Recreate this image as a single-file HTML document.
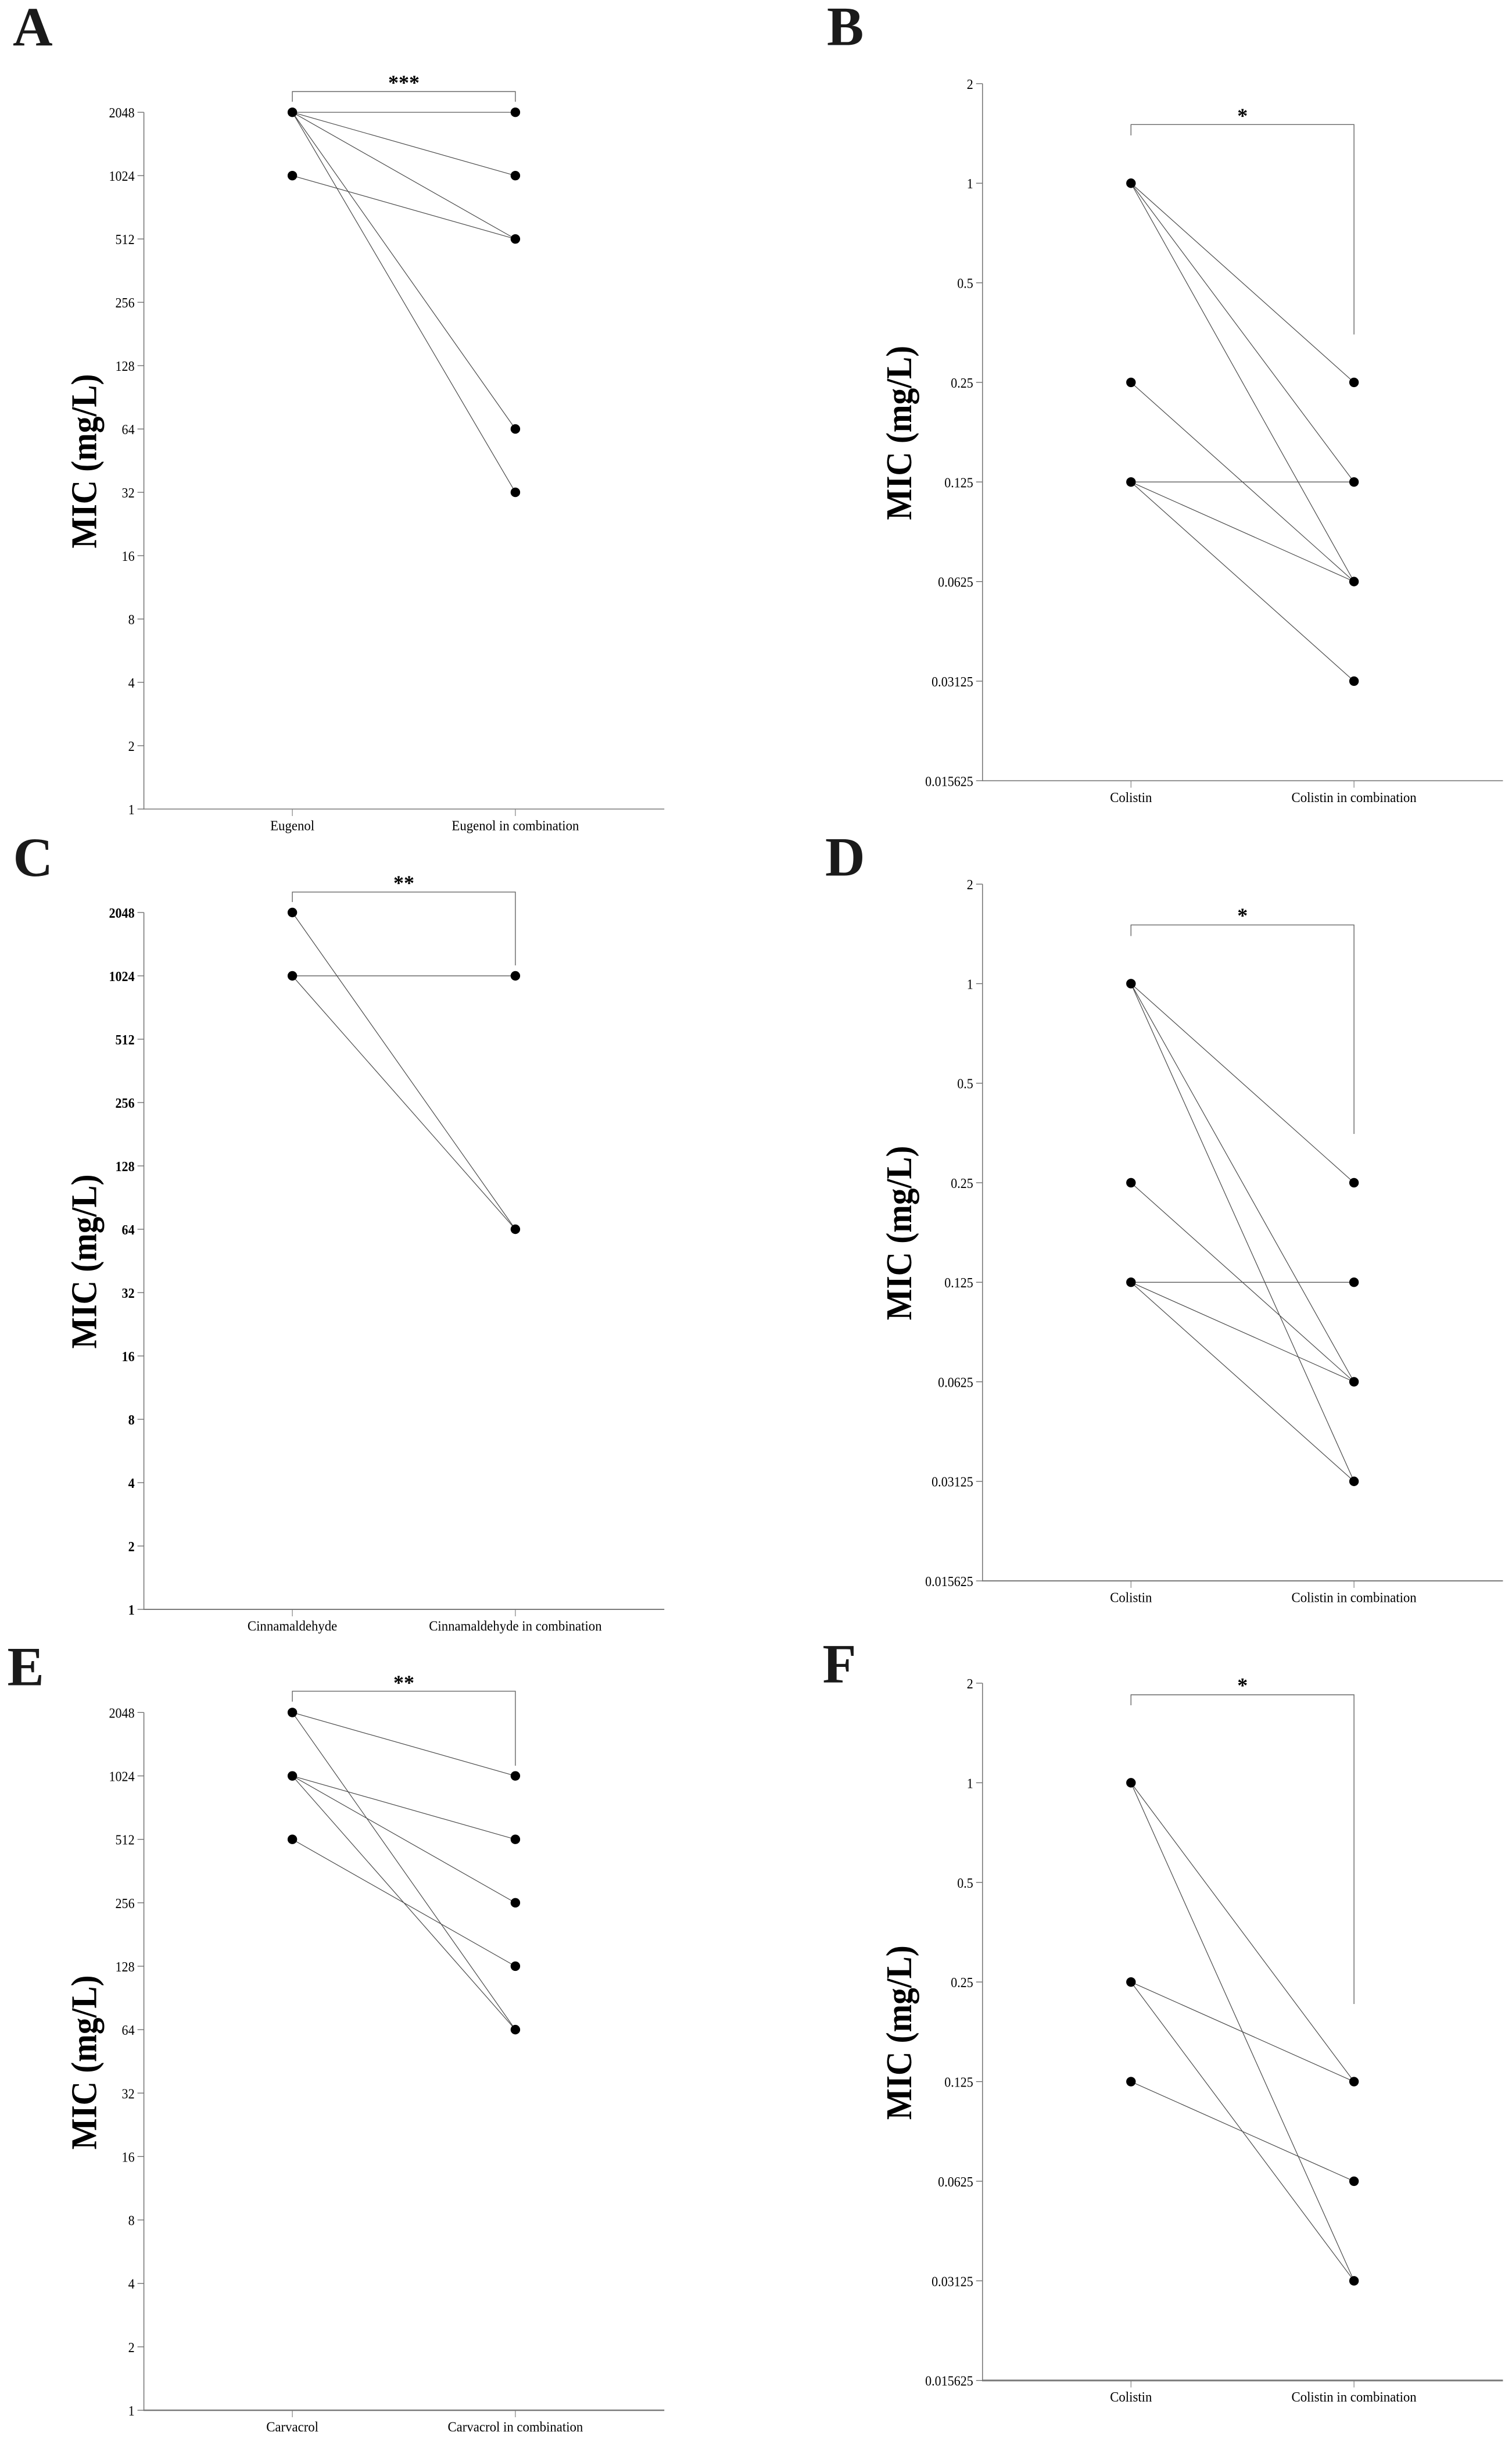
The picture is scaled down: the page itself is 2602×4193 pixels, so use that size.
<!DOCTYPE html>
<html lang="en">
<head>
<meta charset="utf-8">
<title>MIC paired plots</title>
<style>
html,body{margin:0;padding:0;background:#fff;}
body{width:2602px;height:4193px;overflow:hidden;}
svg{display:block;}
text{font-family:"Liberation Serif",serif;fill:#000;}
</style>
</head>
<body>
<svg id="figure" xmlns="http://www.w3.org/2000/svg" width="2602" height="4193" viewBox="0 0 2602 4193">
<rect x="0" y="0" width="2602" height="4193" fill="#fff"/>
</svg>
<script>
const ticksHigh = [1, 2, 4, 8, 16, 32, 64, 128, 256, 512, 1024, 2048];
const ticksLow = [0.015625, 0.03125, 0.0625, 0.125, 0.25, 0.5, 1, 2];

const categoriesA = ["Eugenol", "Eugenol in combination"];
const beforeA = [2048, 2048, 2048, 2048, 2048, 1024];
const afterA = [2048, 1024, 512, 64, 32, 512];

const categoriesB = ["Colistin", "Colistin in combination"];
const beforeB = [1, 1, 1, 0.25, 0.125, 0.125, 0.125];
const afterB = [0.25, 0.125, 0.0625, 0.0625, 0.125, 0.0625, 0.03125];

const categoriesC = ["Cinnamaldehyde", "Cinnamaldehyde in combination"];
const beforeC = [2048, 1024, 1024];
const afterC = [64, 1024, 64];

const categoriesD = ["Colistin", "Colistin in combination"];
const beforeD = [1, 1, 1, 0.25, 0.125, 0.125, 0.125];
const afterD = [0.25, 0.0625, 0.03125, 0.0625, 0.125, 0.0625, 0.03125];

const categoriesE = ["Carvacrol", "Carvacrol in combination"];
const beforeE = [2048, 2048, 1024, 1024, 1024, 512];
const afterE = [1024, 64, 512, 256, 64, 128];

const categoriesF = ["Colistin", "Colistin in combination"];
const beforeF = [1, 1, 0.25, 0.25, 0.125];
const afterF = [0.125, 0.03125, 0.125, 0.03125, 0.0625];

const SVGNS = "http://www.w3.org/2000/svg";
const figure = document.getElementById("figure");

function make(parent, tag, attrs, name) {
  const el = document.createElementNS(SVGNS, tag);
  for (const k in attrs) el.setAttribute(k, attrs[k]);
  
  
  parent.appendChild(el);
  return el;
}

function label(parent, str, x, y, size, sx, anchor, bold, name) {
  const el = make(parent, "text", {
    transform: "translate(" + x + " " + y + ") scale(" + sx + " 1)",
    "font-size": size,
    "text-anchor": anchor,
    "font-weight": bold ? "bold" : "normal"
  }, name);
  el.textContent = str;
  return el;
}

function makeYScale(ticks, topPx, bottomPx) {
  const lo = Math.log2(ticks[0]);
  const hi = Math.log2(ticks[ticks.length - 1]);
  return function (v) {
    return bottomPx - (Math.log2(v) - lo) / (hi - lo) * (bottomPx - topPx);
  };
}

function drawPanel(p) {
  const g = make(figure, "g", {}, "panel-" + p.id.toLowerCase());
  const y = makeYScale(p.ticks, p.top, p.bottom);
  const xCat = function (i) { return p.axisX + 255.5 + i * 383.8; };
  const endX = p.axisX + 895.6;

  label(g, p.id, p.letterX, p.letterY, 95, 1, "start", true, "panel-letter").style.fill = "#1a1a1a";

  make(g, "line", { x1: p.axisX, y1: y(p.ticks[p.ticks.length - 1]), x2: p.axisX, y2: p.bottom, stroke: "#7a7a7a", "stroke-width": 1.6 }, "y-axis-line");
  make(g, "line", { x1: p.axisX - 0.8, y1: p.bottom, x2: endX, y2: p.bottom, stroke: "#7a7a7a", "stroke-width": p.axisW }, "x-axis-line");

  p.ticks.forEach(function (v) {
    make(g, "line", { x1: p.axisX - 11, y1: y(v), x2: p.axisX, y2: y(v), stroke: "#666", "stroke-width": 1.3 }, "y-tick");
    label(g, String(v), p.axisX - 16, y(v) + 9, 24.5, 0.9, "end", p.boldTicks, "y-tick-label");
  });

  p.categories.forEach(function (c, i) {
    make(g, "line", { x1: xCat(i), y1: p.bottom, x2: xCat(i), y2: p.bottom + 12, stroke: "#777", "stroke-width": 1.1 }, "x-tick");
    label(g, c, xCat(i), p.bottom + 36.5, 24, 0.95, "middle", false, "x-tick-label");
  });

  const cx = p.titleX, cy = p.bottom - 598.5;
  const title = make(g, "text", {
    transform: "translate(" + cx + " " + cy + ") rotate(-90)",
    "font-size": 62,
    "font-weight": "bold",
    "text-anchor": "middle",
    textLength: 300,
    lengthAdjust: "spacingAndGlyphs"
  }, "y-axis-title");
  title.textContent = "MIC (mg/L)";

  const bx1 = xCat(0), bx2 = xCat(1);
  make(g, "path", {
    d: "M" + bx1 + " " + p.brLeft + "V" + p.brTop + "H" + bx2 + "V" + p.brRight,
    fill: "none", stroke: "#666", "stroke-width": 1.4
  }, "significance-bracket");
  const star = label(g, p.stars, (bx1 + bx2) / 2, p.starY + 17, 36, 1, "middle", true, "significance-stars");

  p.before.forEach(function (v, i) {
    make(g, "line", { x1: xCat(0), y1: y(v), x2: xCat(1), y2: y(p.after[i]), stroke: "#4a4a4a", "stroke-width": 1.2 }, "paired-line");
  });
  Array.from(new Set(p.before)).forEach(function (v) {
    make(g, "circle", { cx: xCat(0), cy: y(v), r: 8.2, fill: "#000" }, "point-before");
  });
  Array.from(new Set(p.after)).forEach(function (v) {
    make(g, "circle", { cx: xCat(1), cy: y(v), r: 8.2, fill: "#000" }, "point-after");
  });
}

drawPanel({ id: "A", ticks: ticksHigh, categories: categoriesA, before: beforeA, after: afterA,
  axisX: 247.6, top: 193.2, bottom: 1392, axisW: 1.6, letterX: 22, letterY: 78.5, titleX: 165.6,
  brTop: 157.5, brLeft: 175, brRight: 175, stars: "***", starY: 137, boldTicks: false });
drawPanel({ id: "B", ticks: ticksLow, categories: categoriesB, before: beforeB, after: afterB,
  axisX: 1690.8, top: 143.9, bottom: 1343.3, axisW: 1.6, letterX: 1423, letterY: 77.5, titleX: 1568,
  brTop: 214.3, brLeft: 233, brRight: 575.5, stars: "*", starY: 194, boldTicks: false });
drawPanel({ id: "C", ticks: ticksHigh, categories: categoriesC, before: beforeC, after: afterC,
  axisX: 247.6, top: 1570, bottom: 2769, axisW: 2, letterX: 22.5, letterY: 1507, titleX: 165.6,
  brTop: 1534.8, brLeft: 1552, brRight: 1661, stars: "**", starY: 1514, boldTicks: true });
drawPanel({ id: "D", ticks: ticksLow, categories: categoriesD, before: beforeD, after: afterD,
  axisX: 1690.8, top: 1521.2, bottom: 2720, axisW: 2, letterX: 1420, letterY: 1506.7, titleX: 1568,
  brTop: 1591.4, brLeft: 1610.5, brRight: 1951, stars: "*", starY: 1570, boldTicks: false });
drawPanel({ id: "E", ticks: ticksHigh, categories: categoriesE, before: beforeE, after: afterE,
  axisX: 247.6, top: 2946.4, bottom: 4147, axisW: 2.6, letterX: 12.5, letterY: 2899.5, titleX: 165.6,
  brTop: 2909.8, brLeft: 2927.7, brRight: 3038, stars: "**", starY: 2890, boldTicks: false });
drawPanel({ id: "F", ticks: ticksLow, categories: categoriesF, before: beforeF, after: afterF,
  axisX: 1690.8, top: 2896, bottom: 4095.7, axisW: 3, letterX: 1415.5, letterY: 2894.6, titleX: 1568,
  brTop: 2916, brLeft: 2934, brRight: 3448, stars: "*", starY: 2894.6, boldTicks: false });
</script>
</body>
</html>
